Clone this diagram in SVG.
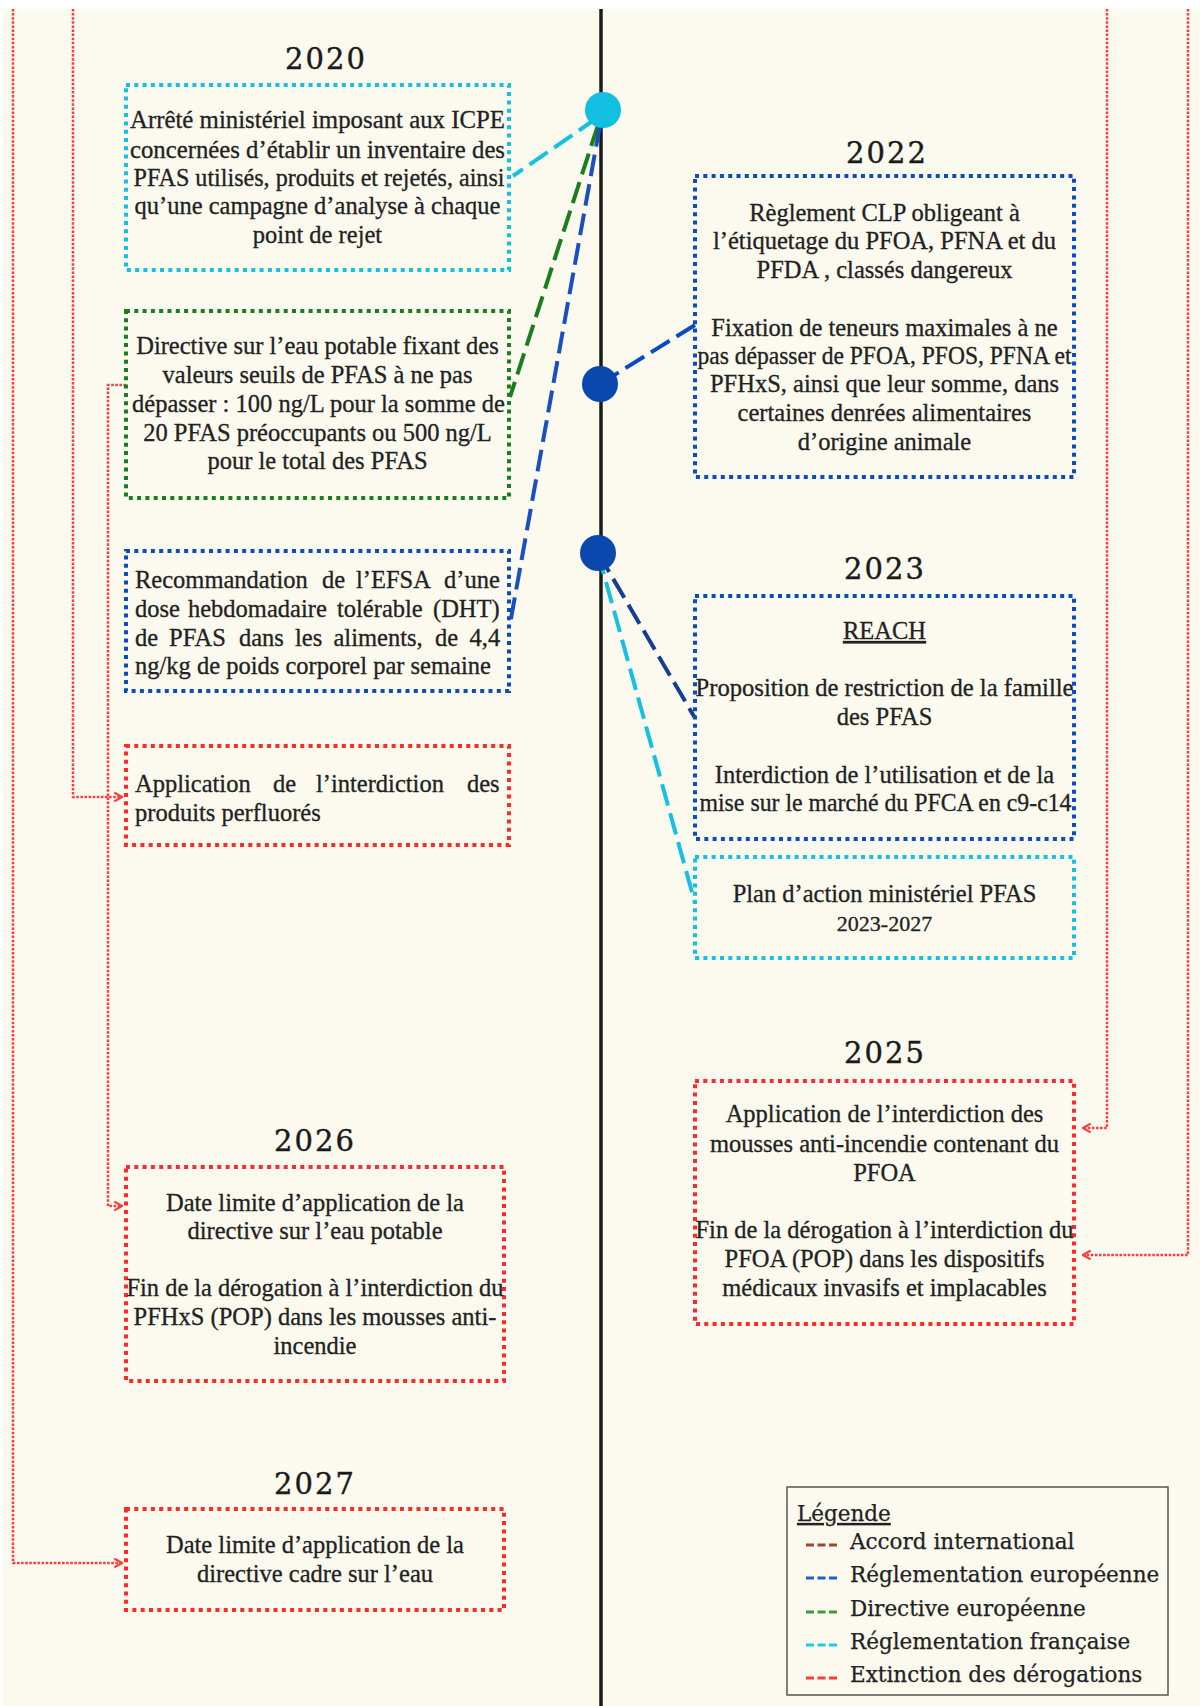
<svg xmlns="http://www.w3.org/2000/svg" width="1200" height="1706" viewBox="0 0 1200 1706">
<defs>
<style>
.bg{fill:#fcf9ee}
.box{fill:none;stroke-width:4;stroke-dasharray:4 4.3}
.cy{stroke:#16c0e0}
.gr{stroke:#1b7d1b}
.bl{stroke:#0a4bc0}
.rd{stroke:#ff2b2b}
.t{font-family:"Liberation Serif","Times New Roman",serif;font-size:24.5px;fill:#222;stroke:#222;stroke-width:0.3px;text-anchor:middle}
.tl{text-anchor:start}
.yr{font-family:"DejaVu Serif",serif;font-size:29px;letter-spacing:2px;fill:#1a1a1a;stroke:#1a1a1a;stroke-width:0.4px;text-anchor:middle}
.con{fill:none;stroke-width:4;stroke-dasharray:22 8}
.red{fill:none;stroke:#ff3d3d;stroke-width:2.5;stroke-dasharray:2.5 1.6}
.lg{font-family:"DejaVu Serif",serif;font-size:21.5px;fill:#222;stroke:#222;stroke-width:0.25px}
.ls{stroke-width:3;stroke-dasharray:8 3.5}
</style>
<marker id="ar" viewBox="0 0 10 10" refX="9" refY="5" markerWidth="11" markerHeight="11" markerUnits="userSpaceOnUse" orient="auto">
<path d="M2,1 L9,5 L2,9" fill="none" stroke="#ff3d3d" stroke-width="2"/>
</marker>
</defs>
<rect x="0" y="0" width="1200" height="1706" fill="#ffffff"/>
<rect class="bg" x="3" y="9" width="1197" height="1697"/>
<line x1="601" y1="9" x2="601" y2="1706" stroke="#1a1a1a" stroke-width="3.5"/>

<g id="connectors">
<line class="con" x1="597" y1="118" x2="513" y2="176" stroke="#16c0e0"/>
<line class="con" x1="598" y1="125" x2="510" y2="397" stroke="#1b7d1b"/>
<line class="con" x1="600" y1="125" x2="510" y2="624" stroke="#1a4fbf"/>
<line class="con" x1="600" y1="384" x2="695" y2="325" stroke="#0a4bc0"/>
<line class="con" x1="598" y1="553" x2="695" y2="718" stroke="#173d8f"/>
<line class="con" x1="598" y1="553" x2="695" y2="903" stroke="#16c0e0"/>
<polyline class="red" points="13,9 13,1563 122,1563" marker-end="url(#ar)"/>
<polyline class="red" points="73,9 73,797 122,797" marker-end="url(#ar)"/>
<polyline class="red" points="126,385 108,385 108,1206 122,1206" marker-end="url(#ar)"/>
<polyline class="red" points="1107,9 1107,1128 1083,1128" marker-end="url(#ar)"/>
<polyline class="red" points="1188,9 1188,1255 1083,1255" marker-end="url(#ar)"/>
</g>

<g id="dot2020"><circle cx="603" cy="110" r="18" fill="#12bfe0"/></g>
<g id="dot2022"><circle cx="600" cy="384" r="18" fill="#0a48ad"/></g>
<g id="dot2023"><circle cx="598" cy="553" r="18" fill="#0a48ad"/></g>

<g id="y2020"><text class="yr" x="326" y="69">2020</text></g>
<g id="y2022"><text class="yr" x="887" y="163">2022</text></g>
<g id="y2023"><text class="yr" x="885" y="579">2023</text></g>
<g id="y2025"><text class="yr" x="885" y="1063">2025</text></g>
<g id="y2026"><text class="yr" x="315" y="1151">2026</text></g>
<g id="y2027"><text class="yr" x="315" y="1494">2027</text></g>

<g id="boxA">
<rect class="box cy" x="126" y="85" width="383" height="185"/>
<text class="t" x="317.5" y="128" textLength="375" lengthAdjust="spacingAndGlyphs">Arrêté ministériel imposant aux ICPE</text>
<text class="t" x="317.5" y="157.5" textLength="375" lengthAdjust="spacingAndGlyphs">concernées d’établir un inventaire des</text>
<text class="t" x="319" y="186" textLength="371" lengthAdjust="spacingAndGlyphs">PFAS utilisés, produits et rejetés, ainsi</text>
<text class="t" x="317.5" y="214">qu’une campagne d’analyse à chaque</text>
<text class="t" x="317.5" y="243">point de rejet</text>
</g>

<g id="boxB">
<rect class="box gr" x="126" y="311" width="383" height="187"/>
<text class="t" x="317.5" y="354">Directive sur l’eau potable fixant des</text>
<text class="t" x="317.5" y="383">valeurs seuils de PFAS à ne pas</text>
<text class="t" x="318.5" y="411.5" textLength="373" lengthAdjust="spacingAndGlyphs">dépasser : 100 ng/L pour la somme de</text>
<text class="t" x="317.5" y="440.5">20 PFAS préoccupants ou 500 ng/L</text>
<text class="t" x="317.5" y="469">pour le total des PFAS</text>
</g>

<g id="boxC">
<rect class="box bl" x="126" y="551" width="383" height="140"/>
<text class="t tl" y="588"><tspan x="135">Recommandation</tspan><tspan x="322">de</tspan><tspan x="356">l’EFSA</tspan><tspan x="444">d’une</tspan></text>
<text class="t tl" y="616.5"><tspan x="135">dose</tspan><tspan x="188">hebdomadaire</tspan><tspan x="337">tolérable</tspan><tspan x="433">(DHT)</tspan></text>
<text class="t tl" y="646"><tspan x="135">de</tspan><tspan x="169">PFAS</tspan><tspan x="239">dans</tspan><tspan x="295">les</tspan><tspan x="333.5">aliments,</tspan><tspan x="435">de</tspan><tspan x="469.5">4,4</tspan></text>
<text class="t tl" x="135" y="674">ng/kg de poids corporel par semaine</text>
</g>

<g id="boxD">
<rect class="box rd" x="126" y="746" width="383" height="99"/>
<text class="t tl" y="792"><tspan x="135">Application</tspan><tspan x="273">de</tspan><tspan x="316">l’interdiction</tspan><tspan x="467">des</tspan></text>
<text class="t tl" x="135" y="820.5">produits perfluorés</text>
</g>

<g id="boxE">
<rect class="box rd" x="126" y="1167" width="378" height="214"/>
<text class="t" x="315" y="1211">Date limite d’application de la</text>
<text class="t" x="315" y="1239">directive sur l’eau potable</text>
<text class="t" x="315" y="1296" textLength="377" lengthAdjust="spacingAndGlyphs">Fin de la dérogation à l’interdiction du</text>
<text class="t" x="315" y="1325">PFHxS (POP) dans les mousses anti-</text>
<text class="t" x="315" y="1354">incendie</text>
</g>

<g id="boxF">
<rect class="box rd" x="126" y="1509" width="378" height="101"/>
<text class="t" x="315" y="1553">Date limite d’application de la</text>
<text class="t" x="315" y="1582">directive cadre sur l’eau</text>
</g>

<g id="boxG">
<rect class="box bl" x="695" y="176" width="379" height="301"/>
<text class="t" x="884.5" y="220.6">Règlement CLP obligeant à</text>
<text class="t" x="884.5" y="249">l’étiquetage du PFOA, PFNA et du</text>
<text class="t" x="884.5" y="278">PFDA , classés dangereux</text>
<text class="t" x="884.5" y="335.6">Fixation de teneurs maximales à ne</text>
<text class="t" x="884.5" y="364" textLength="374" lengthAdjust="spacingAndGlyphs">pas dépasser de PFOA, PFOS, PFNA et</text>
<text class="t" x="884.5" y="392">PFHxS, ainsi que leur somme, dans</text>
<text class="t" x="884.5" y="421">certaines denrées alimentaires</text>
<text class="t" x="884.5" y="449.5">d’origine animale</text>
</g>

<g id="boxH">
<rect class="box bl" x="695" y="596" width="379" height="243"/>
<text class="t" x="884.5" y="639" text-decoration="underline">REACH</text>
<text class="t" x="884.5" y="696" textLength="378" lengthAdjust="spacingAndGlyphs">Proposition de restriction de la famille</text>
<text class="t" x="884.5" y="725">des PFAS</text>
<text class="t" x="884.5" y="782.6">Interdiction de l’utilisation et de la</text>
<text class="t" x="885.5" y="811" textLength="372" lengthAdjust="spacingAndGlyphs">mise sur le marché du PFCA en c9-c14</text>
</g>

<g id="boxI">
<rect class="box cy" x="695" y="857" width="379" height="101"/>
<text class="t" x="884.5" y="902">Plan d’action ministériel PFAS</text>
<text class="t" x="884.5" y="931" style="font-size:22px">2023-2027</text>
</g>

<g id="boxJ">
<rect class="box rd" x="695" y="1081" width="379" height="243"/>
<text class="t" x="884.5" y="1122">Application de l’interdiction des</text>
<text class="t" x="884.5" y="1151.5">mousses anti-incendie contenant du</text>
<text class="t" x="884.5" y="1181">PFOA</text>
<text class="t" x="884.5" y="1238" textLength="378" lengthAdjust="spacingAndGlyphs">Fin de la dérogation à l’interdiction du</text>
<text class="t" x="884.5" y="1266.5">PFOA (POP) dans les dispositifs</text>
<text class="t" x="884.5" y="1296">médicaux invasifs et implacables</text>
</g>

<g id="legend">
<rect x="787" y="1487" width="381" height="208" fill="none" stroke="#555" stroke-width="1.5"/>
<text class="lg" x="797" y="1521" text-decoration="underline">Légende</text>
<line class="ls" x1="806" y1="1545" x2="838" y2="1545" stroke="#a0462a"/>
<text class="lg" x="850" y="1549">Accord international</text>
<line class="ls" x1="806" y1="1578" x2="838" y2="1578" stroke="#1f5fcf"/>
<text class="lg" x="850" y="1582">Réglementation européenne</text>
<line class="ls" x1="806" y1="1612" x2="838" y2="1612" stroke="#3c9a3c"/>
<text class="lg" x="850" y="1616">Directive européenne</text>
<line class="ls" x1="806" y1="1645" x2="838" y2="1645" stroke="#22c8ea"/>
<text class="lg" x="850" y="1649">Réglementation française</text>
<line class="ls" x1="806" y1="1678" x2="838" y2="1678" stroke="#ff3a3a"/>
<text class="lg" x="850" y="1682">Extinction des dérogations</text>
</g>
</svg>
